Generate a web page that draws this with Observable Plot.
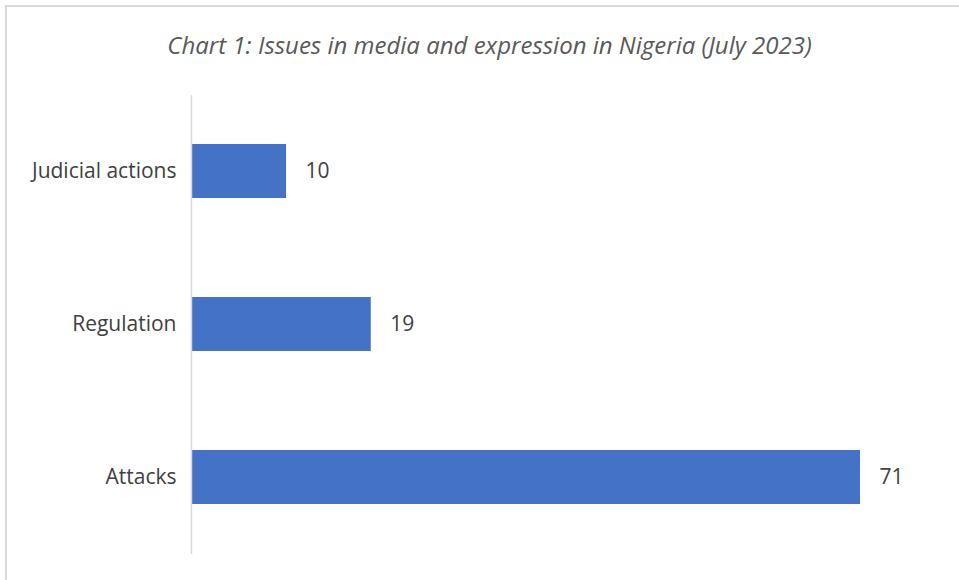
<!DOCTYPE html>
<html>
<head>
<meta charset="utf-8">
<script src="https://cdn.jsdelivr.net/npm/d3@7"></script>
<script src="https://cdn.jsdelivr.net/npm/@observablehq/plot@0.6"></script>
<style>
  html, body { margin: 0; padding: 0; background: #fff; width: 959px; height: 580px; overflow: hidden; }
  #frame { position: absolute; left: 5px; top: 5px; width: 1000px; height: 600px; border-top: 2px solid #d9d9d9; border-left: 2px solid #d9d9d9; box-sizing: border-box; }
  #title { position: absolute; left: 0; top: 28px; width: 979px; text-align: center; font-family: "Open Sans", sans-serif; font-style: italic; font-size: 24px; line-height: 33px; color: #595959; }
  #chart { position: absolute; left: 0; top: 0; }
</style>
</head>
<body>
<div id="frame"></div>
<div id="title">Chart 1: Issues in media and expression in Nigeria (July 2023)</div>
<div id="chart"></div>
<script>
const categories = ["Judicial actions", "Regulation", "Attacks"];
const values = [10, 19, 71];

const data = categories.map((c, i) => ({category: c, value: values[i]}));

const chart = Plot.plot({
  width: 959,
  height: 580,
  marginTop: 95,
  marginBottom: 26,
  marginLeft: 192,
  marginRight: 99,
  style: {fontFamily: "Open Sans, sans-serif", background: "transparent"},
  x: {domain: [0, 71], axis: null},
  y: {domain: categories, paddingInner: 0.647, paddingOuter: 0.3235, label: null},
  marks: [
    Plot.axisY({tickSize: 0, tickPadding: 16, fontSize: 21, color: "#404040", label: null}),
    Plot.barX(data, {x: "value", y: "category", fill: "#4472C4"}),
    Plot.ruleX([0], {stroke: "#d9d9d9", strokeWidth: 1.5, dx: -1}),
    Plot.text(data, {x: "value", y: "category", text: d => String(d.value), textAnchor: "start", dx: 19, fontSize: 21, fill: "#404040"})
  ]
});
document.getElementById("chart").appendChild(chart);
</script>
</body>
</html>
